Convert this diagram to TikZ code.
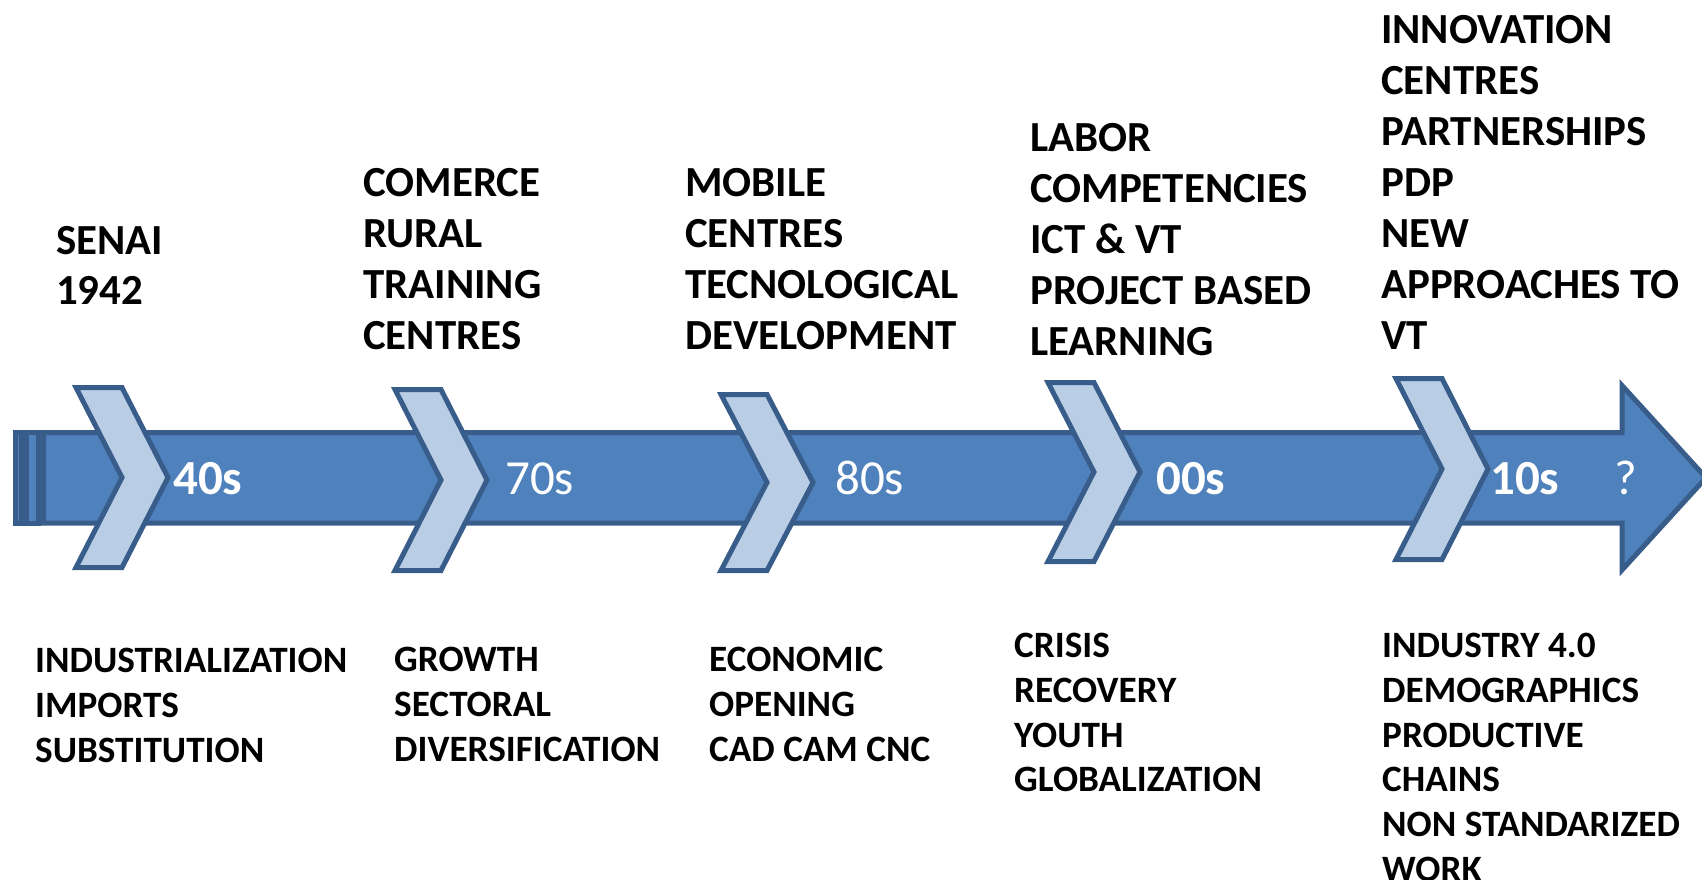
\documentclass[tikz,border=0pt]{standalone}
\usepackage{fontspec}
\setmainfont{Carlito}
\definecolor{arrowfill}{HTML}{4F81BD}
\definecolor{arrowline}{HTML}{385D8A}
\definecolor{chevfill}{HTML}{B9CDE5}
\tikzset{
  shapeline/.style={draw=arrowline, line width=5pt, line join=miter},
  bodyshape/.style={shapeline, fill=arrowfill},
  chevshape/.style={shapeline, fill=chevfill},
  toptext/.style={anchor=north west, inner sep=0pt, align=left, font={\fontsize{42.9}{51}\selectfont\bfseries}},
  bottext/.style={anchor=north west, inner sep=0pt, align=left, font={\fontsize{37.2}{44.7}\selectfont\bfseries}},
  yearbold/.style={anchor=base west, inner sep=0pt, text=white, font={\fontsize{49}{52}\selectfont\bfseries}},
  yearreg/.style={anchor=base west, inner sep=0pt, text=white, font={\fontsize{49}{52}\selectfont}},
}
% chevron: #1 left x, #2 top y, #3 bottom y
\newcommand{\mychevron}[3]{%
  \pgfmathsetmacro{\cm}{(#2+#3)/2}%
  \draw[chevshape] (#1,#2) -- ++(46,0) -- (#1+92,\cm) -- (#1+46,#3) -- (#1,#3) -- (#1+46,\cm) -- cycle;%
}
\begin{document}
\begin{tikzpicture}[x=1pt,y=-1pt]
\useasboundingbox (0,0) rectangle (1702,880);
% stripes and main arrow
\draw[bodyshape] (15.5,432.5) rectangle (21.5,523);
\draw[bodyshape] (26.5,432.5) rectangle (38.5,523);
\draw[bodyshape] (43.5,432.5) -- (1622,432.5) -- (1622,385.5) -- (1706,477.75) -- (1622,570) -- (1622,523) -- (43.5,523) -- cycle;
% chevrons
\mychevron{76}{387.5}{567.5}
\mychevron{395}{389.5}{570.5}
\mychevron{721}{394.5}{570.5}
\mychevron{1048}{382.5}{561.5}
\mychevron{1396}{378.5}{559.5}
% years
\node[yearbold] (y40) at (173,494) {40s};
\node[yearreg]  (y70) at (505,494) {70s};
\node[yearreg]  (y80) at (835,494) {80s};
\node[yearbold] (y00) at (1156,494) {00s};
\node[yearbold] (y10) at (1490,494) {10s};
\node[yearreg]  (yq)  at (1614,494) {?};
% top texts
\node[toptext, font={\fontsize{42.9}{50}\selectfont\bfseries}] (t1) at (56,226) {SENAI\\1942};
\node[toptext] (t2) at (363,168) {COMERCE\\RURAL\\TRAINING\\CENTRES};
\node[toptext] (t3) at (685,168) {MOBILE\\CENTRES\\TECNOLOGICAL\\DEVELOPMENT};
\node[toptext] (t4) at (1030,123) {LABOR\\COMPETENCIES\\ICT \& VT\\PROJECT BASED\\LEARNING};
\node[toptext] (t5) at (1381,15) {INNOVATION\\CENTRES\\PARTNERSHIPS\\PDP\\NEW\\APPROACHES TO\\VT};
% bottom texts
\node[bottext] (b1) at (35,648) {INDUSTRIALIZATION\\IMPORTS\\SUBSTITUTION};
\node[bottext] (b2) at (394,647) {GROWTH\\SECTORAL\\DIVERSIFICATION};
\node[bottext] (b3) at (709,647) {ECONOMIC\\OPENING\\CAD CAM CNC};
\node[bottext] (b4) at (1014,633) {CRISIS\\RECOVERY\\YOUTH\\GLOBALIZATION};
\node[bottext] (b5) at (1382,633) {INDUSTRY 4.0\\DEMOGRAPHICS\\PRODUCTIVE\\CHAINS\\NON STANDARIZED\\WORK};
\end{tikzpicture}
\end{document}
